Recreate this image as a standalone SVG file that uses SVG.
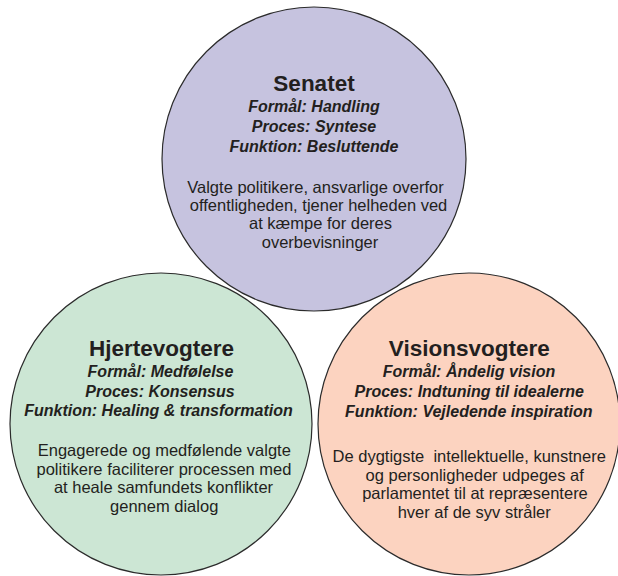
<svg xmlns="http://www.w3.org/2000/svg" width="618" height="576" viewBox="0 0 618 576">
<style>
.c{stroke:#2b2b2b;stroke-width:1.2}
text{font-family:"Liberation Sans",Arial,Helvetica,sans-serif;fill:#231f20;text-anchor:middle;white-space:pre}
.t{font-size:22.5px;font-weight:bold}
.i{font-size:16px;font-weight:bold;font-style:italic}
.b{font-size:16.5px}
</style>
<rect width="618" height="576" fill="#ffffff"/>
<g id="connectors"></g>
<g id="senatet">
<circle class="c" cx="314" cy="159" r="152" fill="#c6c3df"/>
<text class="t" x="314" y="91">Senatet</text>
<text class="i" x="314" y="112">Formål: Handling</text>
<text class="i" x="314" y="131.7">Proces: Syntese</text>
<text class="i" x="314" y="151.5">Funktion: Besluttende</text>
<text class="b" x="315.5" y="192.7">Valgte politikere, ansvarlige overfor</text>
<text class="b" x="318.5" y="211">offentligheden, tjener helheden ved</text>
<text class="b" x="320.5" y="229.3">at kæmpe for deres</text>
<text class="b" x="320" y="247.7">overbevisninger</text>
</g>
<g id="hjertevogtere">
<circle class="c" cx="161" cy="424" r="151" fill="#cce6d4"/>
<text class="t" x="161.5" y="356">Hjertevogtere</text>
<text class="i" x="160.5" y="377.3">Formål: Medfølelse</text>
<text class="i" x="160" y="396.7">Proces: Konsensus</text>
<text class="i" x="158.5" y="415.8">Funktion: Healing &amp; transformation</text>
<text class="b" x="164.3" y="456">Engagerede og medfølende valgte</text>
<text class="b" x="164" y="474.5">politikere faciliterer processen med</text>
<text class="b" x="163.5" y="493">at heale samfundets konflikter</text>
<text class="b" x="164.2" y="511.5">gennem dialog</text>
</g>
<g id="visionsvogtere">
<circle class="c" cx="469" cy="424" r="151" fill="#fcd3c0"/>
<text class="t" x="469.3" y="356">Visionsvogtere</text>
<text class="i" x="469" y="377.3">Formål: Åndelig vision</text>
<text class="i" x="469.2" y="396.7">Proces: Indtuning til idealerne</text>
<text class="i" x="468.8" y="416.5">Funktion: Vejledende inspiration</text>
<text class="b" x="469.2" y="462">De dygtigste  intellektuelle, kunstnere</text>
<text class="b" x="474.7" y="480.5">og personligheder udpeges af</text>
<text class="b" x="475" y="499">parlamentet til at repræsentere</text>
<text class="b" x="474.2" y="517.5">hver af de syv stråler</text>
</g>
</svg>
